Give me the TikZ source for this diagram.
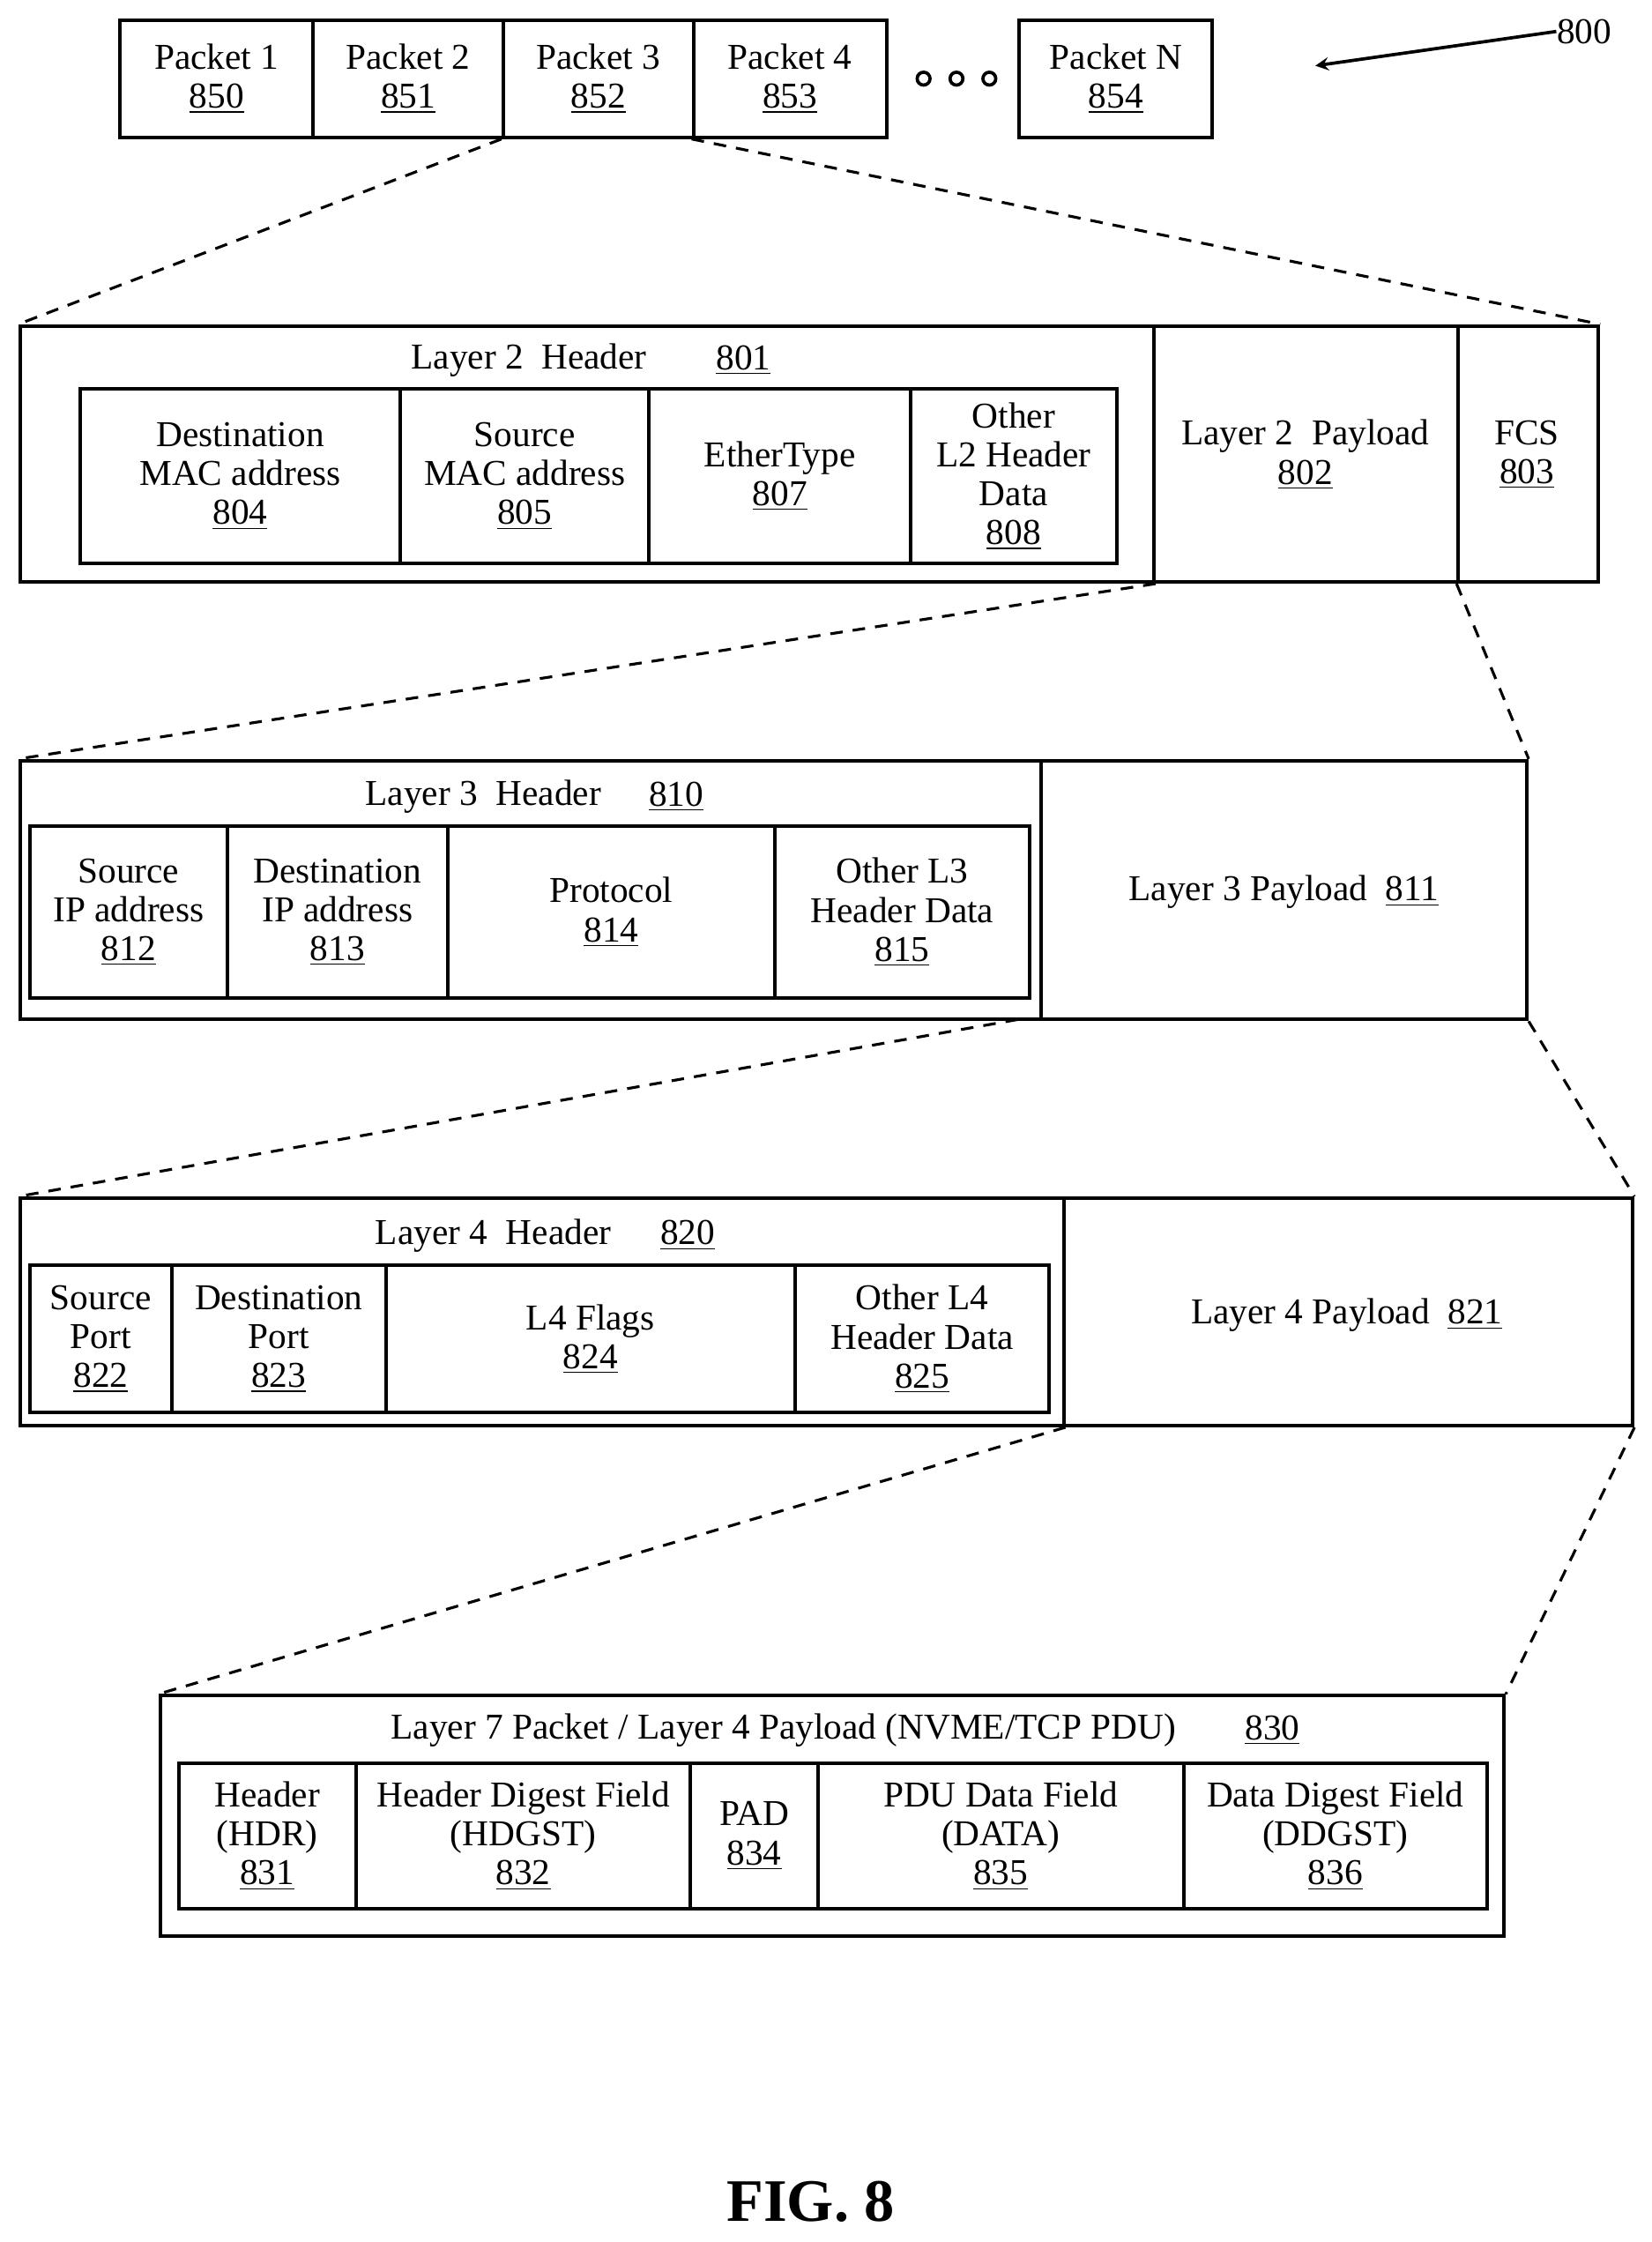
\documentclass[tikz,border=0pt]{standalone}
\usepackage{fontspec}
\setmainfont{Liberation Serif}
\usetikzlibrary{fit}
\newcommand{\bx}[6][]{\node[box,#1,fit={(#3,#4)(#5,#6)}] (#2) {};}
\begin{document}
\begin{tikzpicture}[x=0.02cm,y=-0.02cm,
  box/.style={draw,line width=1.4pt,inner sep=0pt},
  lbl/.style={align=center,font=\fontsize{14.5}{15.5}\selectfont,inner sep=0pt},
  dsh/.style={dashed,line width=1.1pt,dash pattern=on 5pt off 4pt}]
\useasboundingbox (0,0) rectangle (1155,1568);
% packets
\bx{p1}{84}{14}{219}{96}\bx{p2}{219}{14}{352}{96}\bx{p3}{352}{14}{485}{96}\bx{p4}{485}{14}{620}{96}\bx{pn}{713}{14}{848}{96}
\node[lbl] at (p1) {Packet 1\\\underline{850}};
\node[lbl] at (p2) {Packet 2\\\underline{851}};
\node[lbl] at (p3) {Packet 3\\\underline{852}};
\node[lbl] at (p4) {Packet 4\\\underline{853}};
\node[lbl] at (pn) {Packet N\\\underline{854}};
\foreach \x in {646,669,692} \draw[line width=1.3pt] (\x,55) circle (4.5);
\node[lbl] (n800) at (1108,22) {800};
\coordinate (a800) at (920,46);
\draw[line width=1.3pt,-stealth] (n800.west) -- (a800);
% layer 2
\bx{l2}{14}{228}{1118}{407}
\bx{h2}{14}{228}{807}{407}\bx{pl2}{807}{228}{1020}{407}\bx{fcs}{1020}{228}{1118}{407}
\node[lbl] at (370,252) {Layer 2\ \ Header};\node[lbl] at (520,252) {\underline{801}};
\bx{d804}{56}{272}{280}{394}\bx{d805}{280}{272}{454}{394}\bx{d807}{454}{272}{637}{394}\bx{d808}{637}{272}{781}{394}
\node[lbl] at (d804) {Destination\\MAC address\\\underline{804}};
\node[lbl] at (d805) {Source\\MAC address\\\underline{805}};
\node[lbl] at (d807) {EtherType\\\underline{807}};
\node[lbl] at (d808) {Other\\L2 Header\\Data\\\underline{808}};
\node[lbl] at (913,318) {Layer 2\ \ Payload\\\underline{802}};
\node[lbl] at (1068,318) {FCS\\\underline{803}};
\draw[dsh] (p3.south west) -- (l2.north west);
\draw[dsh] (p4.south west) -- (l2.north east);
% layer 3
\bx{l3}{14}{532}{1068}{713}\bx{h3}{14}{532}{728}{713}
\node[lbl] at (338,557) {Layer 3\ \ Header};\node[lbl] at (473,557) {\underline{810}};
\bx{d812}{21}{578}{159}{698}\bx{d813}{159}{578}{313}{698}\bx{d814}{313}{578}{542}{698}\bx{d815}{542}{578}{720}{698}
\node[lbl] at (d812) {Source\\IP address\\\underline{812}};
\node[lbl] at (d813) {Destination\\IP address\\\underline{813}};
\node[lbl] at (d814) {Protocol\\\underline{814}};
\node[lbl] at (d815) {Other L3\\Header Data\\\underline{815}};
\node[lbl] at (898,624) {Layer 3 Payload\ \ \underline{811}};
\draw[dsh] (h2.south east) -- (l3.north west);
\draw[dsh] (fcs.south west) -- (l3.north east);
% layer 4
\bx{l4}{14}{838}{1142}{997}\bx{h4}{14}{838}{744}{997}
\node[lbl] at (345,864) {Layer 4\ \ Header};\node[lbl] at (481,864) {\underline{820}};
\bx{d822}{21}{885}{120}{988}\bx{d823}{120}{885}{270}{988}\bx{d824}{270}{885}{556}{988}\bx{d825}{556}{885}{734}{988}
\node[lbl] at (d822) {Source\\Port\\\underline{822}};
\node[lbl] at (d823) {Destination\\Port\\\underline{823}};
\node[lbl] at (d824) {L4 Flags\\\underline{824}};
\node[lbl] at (d825) {Other L4\\Header Data\\\underline{825}};
\node[lbl] at (942,920) {Layer 4 Payload\ \ \underline{821}};
\coordinate (c3) at (712,713);
\draw[dsh] (c3) -- (l4.north west);
\draw[dsh] (l3.south east) -- (l4.north east);
% layer 7
\bx{l7}{112}{1186}{1052}{1354}
\node[lbl] at (548,1210) {Layer 7 Packet / Layer 4 Payload (NVME/TCP PDU)};\node[lbl] at (890,1210) {\underline{830}};
\bx{d831}{125}{1233}{249}{1335}\bx{d832}{249}{1233}{483}{1335}\bx{d834}{483}{1233}{572}{1335}\bx{d835}{572}{1233}{828}{1335}\bx{d836}{828}{1233}{1040}{1335}
\node[lbl] at (d831) {Header\\(HDR)\\\underline{831}};
\node[lbl] at (d832) {Header Digest Field\\(HDGST)\\\underline{832}};
\node[lbl] at (d834) {PAD\\\underline{834}};
\node[lbl] at (d835) {PDU Data Field\\(DATA)\\\underline{835}};
\node[lbl] at (d836) {Data Digest Field\\(DDGST)\\\underline{836}};
\draw[dsh] (h4.south east) -- (l7.north west);
\draw[dsh] (l4.south east) -- (l7.north east);
\node[font=\fontsize{24}{26}\selectfont\bfseries] (fig) at (567,1540) {FIG. 8};
\end{tikzpicture}
\end{document}
